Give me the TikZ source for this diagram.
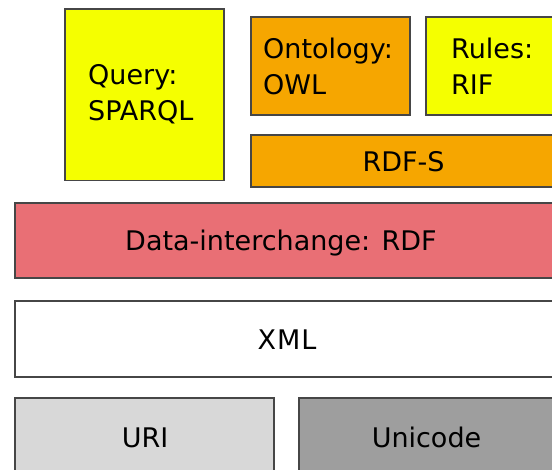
\documentclass[tikz,border=0pt]{standalone}
\usepackage{fontspec}
\setmainfont{DejaVu Sans}
\definecolor{qyellow}{RGB}{245,255,0}
\definecolor{qorange}{RGB}{246,166,0}
\definecolor{qred}{RGB}{233,111,117}
\definecolor{qlight}{RGB}{216,216,216}
\definecolor{qdark}{RGB}{158,158,158}
\definecolor{qline}{RGB}{70,70,70}
\begin{document}
\begin{tikzpicture}[x=1pt,y=-1pt,
  box/.style={draw=qline, line width=1.2pt, rectangle, inner sep=0pt, outer sep=0pt},
  lbl/.style={inner sep=0pt, font=\fontsize{27}{36}\selectfont, text=black}]
\useasboundingbox (0,0) rectangle (552,470);
\clip (0,0) rectangle (552,470);
\fill[white] (0,0) rectangle (552,470);
% boxes
\node[box, fill=qyellow, minimum width=159pt, minimum height=171.5pt] (query) at (144.5,94.75) {};
\node[box, fill=qorange, minimum width=159pt, minimum height=98pt] (onto) at (330.5,66) {};
\node[box, fill=qyellow, minimum width=174pt, minimum height=98pt] (rules) at (513,66) {};
\node[box, fill=qorange, minimum width=349pt, minimum height=52pt] (rdfs) at (425.5,161) {};
\node[box, fill=qred, minimum width=585pt, minimum height=75pt] (rdf) at (307.5,240.5) {};
\node[box, fill=white, minimum width=585pt, minimum height=76pt] (xml) at (307.5,339) {};
\node[box, fill=qlight, minimum width=259pt, minimum height=102pt] (uri) at (144.5,449) {};
\node[box, fill=qdark, minimum width=301pt, minimum height=102pt] (unicode) at (449.5,449) {};
% labels (base = baseline of last line)
\node[lbl, anchor=base west, align=left] (tquery) at (88,121) {Query:\\SPARQL};
\node[lbl, anchor=base west, align=left] (tonto) at (263,95) {Ontology:\\OWL};
\node[lbl, anchor=base west, align=left] (trules) at (451,95) {Rules:\\RIF};
\node[lbl, anchor=base] (trdfs) at (403.5,172) {RDF-S};
\node[lbl, anchor=base] (trdf) at (281,250.7) {Data-interchange: RDF};
\node[lbl, anchor=base] (txml) at (287,350) {X\kern1pt M\kern1pt L};
\node[lbl, anchor=base] (turi) at (145,448) {URI};
\node[lbl, anchor=base] (tunicode) at (426.5,448) {Unicode};
\end{tikzpicture}
\end{document}
